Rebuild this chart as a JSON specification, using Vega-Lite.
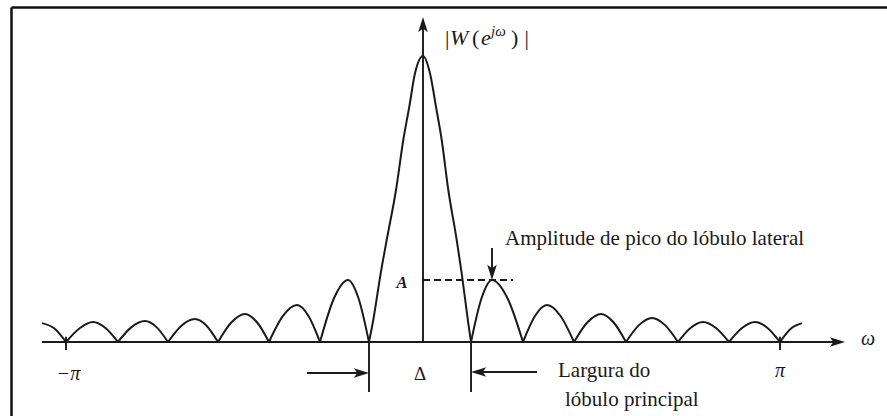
{
  "$schema": "https://vega.github.io/schema/vega-lite/v6.json",
  "width": 876,
  "height": 409,
  "autosize": {"type": "none"},
  "padding": {"left": 11, "top": 7, "right": 0, "bottom": 0},
  "background": "#ffffff",
  "config": {"view": {"stroke": null}, "text": {"font": "Liberation Serif, Times New Roman, serif"}},
  "datasets": {
    "curve": [
      {"lobe": "L0", "w": -1.0672, "mag": 0.066},
      {"lobe": "L0", "w": -1.0322, "mag": 0.047},
      {"lobe": "L0", "w": -1.0, "mag": 0},
      {"lobe": "L1", "w": -1.0, "mag": 0},
      {"lobe": "L1", "w": -0.9608, "mag": 0.049},
      {"lobe": "L1", "w": -0.9244, "mag": 0.07},
      {"lobe": "L1", "w": -0.8894, "mag": 0.049},
      {"lobe": "L1", "w": -0.8543, "mag": 0},
      {"lobe": "L2", "w": -0.8543, "mag": 0},
      {"lobe": "L2", "w": -0.8165, "mag": 0.052},
      {"lobe": "L2", "w": -0.7787, "mag": 0.073},
      {"lobe": "L2", "w": -0.7465, "mag": 0.052},
      {"lobe": "L2", "w": -0.7143, "mag": 0},
      {"lobe": "L3", "w": -0.7143, "mag": 0},
      {"lobe": "L3", "w": -0.6765, "mag": 0.057},
      {"lobe": "L3", "w": -0.6387, "mag": 0.08},
      {"lobe": "L3", "w": -0.6064, "mag": 0.057},
      {"lobe": "L3", "w": -0.5742, "mag": 0},
      {"lobe": "L4", "w": -0.5742, "mag": 0},
      {"lobe": "L4", "w": -0.5364, "mag": 0.069},
      {"lobe": "L4", "w": -0.4986, "mag": 0.098},
      {"lobe": "L4", "w": -0.465, "mag": 0.069},
      {"lobe": "L4", "w": -0.4314, "mag": 0},
      {"lobe": "L5", "w": -0.4314, "mag": 0},
      {"lobe": "L5", "w": -0.3922, "mag": 0.091},
      {"lobe": "L5", "w": -0.3529, "mag": 0.129},
      {"lobe": "L5", "w": -0.3207, "mag": 0.091},
      {"lobe": "L5", "w": -0.2885, "mag": 0},
      {"lobe": "L6", "w": -0.2885, "mag": 0},
      {"lobe": "L6", "w": -0.2493, "mag": 0.153},
      {"lobe": "L6", "w": -0.2101, "mag": 0.217},
      {"lobe": "L6", "w": -0.1807, "mag": 0.153},
      {"lobe": "L6", "w": -0.1513, "mag": 0},
      {"lobe": "M", "w": -0.1513, "mag": 0},
      {"lobe": "M", "w": -0.1409, "mag": 0.0654},
      {"lobe": "M", "w": -0.1185, "mag": 0.2402},
      {"lobe": "M", "w": -0.1017, "mag": 0.3566},
      {"lobe": "M", "w": -0.0756, "mag": 0.5315},
      {"lobe": "M", "w": -0.0552, "mag": 0.7063},
      {"lobe": "M", "w": -0.0384, "mag": 0.8226},
      {"lobe": "M", "w": -0.0224, "mag": 0.9395},
      {"lobe": "M", "w": 0, "mag": 1},
      {"lobe": "M", "w": 0.0196, "mag": 0.9395},
      {"lobe": "M", "w": 0.0364, "mag": 0.8226},
      {"lobe": "M", "w": 0.0524, "mag": 0.7063},
      {"lobe": "M", "w": 0.0709, "mag": 0.5315},
      {"lobe": "M", "w": 0.0944, "mag": 0.3566},
      {"lobe": "M", "w": 0.1084, "mag": 0.2402},
      {"lobe": "M", "w": 0.1269, "mag": 0.0654},
      {"lobe": "M", "w": 0.1345, "mag": 0},
      {"lobe": "R1", "w": 0.1345, "mag": 0},
      {"lobe": "R1", "w": 0.1639, "mag": 0.153},
      {"lobe": "R1", "w": 0.1933, "mag": 0.217},
      {"lobe": "R1", "w": 0.2367, "mag": 0.153},
      {"lobe": "R1", "w": 0.2801, "mag": 0},
      {"lobe": "R2", "w": 0.2801, "mag": 0},
      {"lobe": "R2", "w": 0.3137, "mag": 0.091},
      {"lobe": "R2", "w": 0.3473, "mag": 0.129},
      {"lobe": "R2", "w": 0.3852, "mag": 0.091},
      {"lobe": "R2", "w": 0.423, "mag": 0},
      {"lobe": "R3", "w": 0.423, "mag": 0},
      {"lobe": "R3", "w": 0.4608, "mag": 0.069},
      {"lobe": "R3", "w": 0.4986, "mag": 0.098},
      {"lobe": "R3", "w": 0.5336, "mag": 0.069},
      {"lobe": "R3", "w": 0.5686, "mag": 0},
      {"lobe": "R4", "w": 0.5686, "mag": 0},
      {"lobe": "R4", "w": 0.605, "mag": 0.059},
      {"lobe": "R4", "w": 0.6415, "mag": 0.084},
      {"lobe": "R4", "w": 0.6779, "mag": 0.059},
      {"lobe": "R4", "w": 0.7143, "mag": 0},
      {"lobe": "R5", "w": 0.7143, "mag": 0},
      {"lobe": "R5", "w": 0.7493, "mag": 0.049},
      {"lobe": "R5", "w": 0.7843, "mag": 0.07},
      {"lobe": "R5", "w": 0.8207, "mag": 0.049},
      {"lobe": "R5", "w": 0.8571, "mag": 0},
      {"lobe": "R6", "w": 0.8571, "mag": 0},
      {"lobe": "R6", "w": 0.8936, "mag": 0.049},
      {"lobe": "R6", "w": 0.93, "mag": 0.07},
      {"lobe": "R6", "w": 0.965, "mag": 0.049},
      {"lobe": "R6", "w": 1.0, "mag": 0},
      {"lobe": "R7", "w": 1.0, "mag": 0},
      {"lobe": "R7", "w": 1.0308, "mag": 0.047},
      {"lobe": "R7", "w": 1.0616, "mag": 0.066}
    ],
    "strokes": [
      {"part": "omega axis", "w": -1.0672, "mag": 0, "w2": 1.16, "mag2": 0},
      {"part": "magnitude axis", "w": 0, "mag": 0, "w2": 0, "mag2": 1.1},
      {"part": "tick -pi", "w": -1.0, "mag": 0.0185, "w2": -1.0, "mag2": -0.028},
      {"part": "tick pi", "w": 1.0, "mag": 0.0185, "w2": 1.0, "mag2": -0.028},
      {"part": "main lobe edge left", "w": -0.1513, "mag": 0, "w2": -0.1513, "mag2": -0.1748},
      {"part": "main lobe edge right", "w": 0.1345, "mag": 0, "w2": 0.1345, "mag2": -0.1748},
      {"part": "width arrow left", "w": -0.3249, "mag": -0.1084, "w2": -0.175, "mag2": -0.1084},
      {"part": "width arrow right", "w": 0.3193, "mag": -0.1049, "w2": 0.158, "mag2": -0.1049},
      {"part": "side lobe pointer", "w": 0.1933, "mag": 0.3287, "w2": 0.1933, "mag2": 0.245}
    ]
  },
  "encoding": {
    "x": {
      "field": "w",
      "type": "quantitative",
      "scale": {"domain": [-1.15406, 1.29972], "nice": false, "zero": false},
      "axis": {"orient": "top", "domain": true, "domainColor": "#111111", "domainWidth": 2.5, "ticks": false, "labels": false, "grid": false, "title": null}
    },
    "y": {
      "field": "mag",
      "type": "quantitative",
      "scale": {"domain": [-0.25874, 1.17133], "nice": false, "zero": false},
      "axis": {"orient": "left", "domain": true, "domainColor": "#111111", "domainWidth": 2.5, "ticks": false, "labels": false, "grid": false, "title": null}
    }
  },
  "layer": [
    {
      "data": {"name": "curve"},
      "mark": {"type": "line", "interpolate": "monotone", "color": "#1a1a1a", "strokeWidth": 2, "strokeJoin": "round"},
      "encoding": {"detail": {"field": "lobe"}}
    },
    {
      "data": {"name": "strokes"},
      "mark": {"type": "rule", "color": "#1a1a1a", "strokeWidth": 1.9},
      "encoding": {"x2": {"field": "w2"}, "y2": {"field": "mag2"}}
    },
    {
      "data": {"values": [{"w": 0, "mag": 0.217, "w2": 0.2521}]},
      "mark": {"type": "rule", "color": "#1a1a1a", "strokeWidth": 2, "strokeDash": [7, 4]},
      "encoding": {"x2": {"field": "w2"}, "y2": {"field": "mag"}}
    },
    {
      "data": {"values": [{"w": 1.1821, "mag": 0}, {"w": -0.1513, "mag": -0.1084}]},
      "mark": {"type": "point", "shape": "M0,0L-1.9,-0.6L-1.45,0L-1.9,0.6Z", "size": 256, "filled": true, "color": "#1a1a1a", "opacity": 1}
    },
    {
      "data": {"values": [{"w": 0.1345, "mag": -0.1049}]},
      "mark": {"type": "point", "shape": "M0,0L1.9,-0.6L1.45,0L1.9,0.6Z", "size": 256, "filled": true, "color": "#1a1a1a", "opacity": 1}
    },
    {
      "data": {"values": [{"w": 0, "mag": 1.1364}]},
      "mark": {"type": "point", "shape": "M0,0L-0.6,1.9L0,1.45L0.6,1.9Z", "size": 256, "filled": true, "color": "#1a1a1a", "opacity": 1}
    },
    {
      "data": {"values": [{"w": 0.1933, "mag": 0.217}]},
      "mark": {"type": "point", "shape": "M0,0L-0.6,-1.9L0,-1.45L0.6,-1.9Z", "size": 256, "filled": true, "color": "#1a1a1a", "opacity": 1}
    },
    {
      "data": {"values": [
        {"w": 0.0616, "mag": 1.04, "t": "|"},
        {"w": 0.1373, "mag": 1.04, "t": "("},
        {"w": 0.2465, "mag": 1.04, "t": ")"},
        {"w": 0.284, "mag": 1.04, "t": "|"}
      ]},
      "mark": {"type": "text", "fontSize": 22, "align": "left", "baseline": "alphabetic", "color": "#1a1a1a"},
      "encoding": {"text": {"field": "t"}}
    },
    {
      "data": {"values": [
        {"w": 0.0756, "mag": 1.04, "t": "W"},
        {"w": 0.1625, "mag": 1.04, "t": "e"}
      ]},
      "mark": {"type": "text", "fontStyle": "italic", "fontSize": 22, "align": "left", "baseline": "alphabetic", "color": "#1a1a1a"},
      "encoding": {"text": {"field": "t"}}
    },
    {
      "data": {"values": [{"w": 0.1905, "mag": 1.0699, "t": "jω"}]},
      "mark": {"type": "text", "fontStyle": "italic", "fontSize": 15, "align": "left", "baseline": "alphabetic", "color": "#1a1a1a"},
      "encoding": {"text": {"field": "t"}}
    },
    {
      "data": {"values": [
        {"w": -0.0588, "mag": 0.1888, "t": "A"}
      ]},
      "mark": {"type": "text", "fontStyle": "italic", "fontWeight": "bold", "fontSize": 17, "align": "center", "baseline": "alphabetic", "color": "#1a1a1a"},
      "encoding": {"text": {"field": "t"}}
    },
    {
      "data": {"values": [
        {"w": -0.993, "mag": -0.1329, "t": "−π"},
        {"w": 1.0, "mag": -0.1224, "t": "π"},
        {"w": 1.2465, "mag": -0.0105, "t": "ω"}
      ]},
      "mark": {"type": "text", "fontStyle": "italic", "fontSize": 20, "align": "center", "baseline": "alphabetic", "color": "#1a1a1a"},
      "encoding": {"text": {"field": "t"}}
    },
    {
      "data": {"values": [{"w": -0.0084, "mag": -0.1346, "t": "Δ"}]},
      "mark": {"type": "text", "fontSize": 19, "align": "center", "baseline": "alphabetic", "color": "#1a1a1a"},
      "encoding": {"text": {"field": "t"}}
    },
    {
      "data": {"values": [
        {"w": 0.2297, "mag": 0.3392, "t": "Amplitude de pico do lóbulo lateral"},
        {"w": 0.3782, "mag": -0.1224, "t": "Largura do"},
        {"w": 0.3978, "mag": -0.2238, "t": "lóbulo principal"}
      ]},
      "mark": {"type": "text", "fontSize": 21, "align": "left", "baseline": "alphabetic", "color": "#1a1a1a"},
      "encoding": {"text": {"field": "t"}}
    }
  ]
}
